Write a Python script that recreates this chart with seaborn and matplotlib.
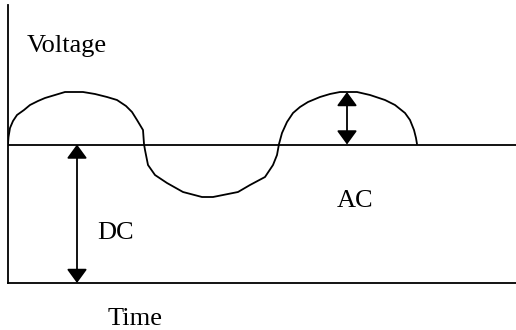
import matplotlib
matplotlib.use("Agg")
import matplotlib.pyplot as plt
import seaborn as sns
import pandas as pd

# Hand-drawn signal (time, voltage)
curve_time = [0, 0.5, 2, 5, 9, 16, 22, 30, 37, 47, 57, 66, 75, 87, 99, 109, 118, 124, 129, 135,
              136, 137, 140, 147, 159, 175, 194, 205, 215, 230, 242, 257, 265, 269, 271, 274,
              279, 285, 292, 300, 312, 322, 332, 349, 362, 377, 387, 397, 402, 406, 408, 409]
curve_voltage = [139, 146, 155, 162, 168, 173, 178, 182, 185, 188, 191, 191, 191, 189, 186, 183,
                 177, 171, 163, 153, 139, 133, 118, 108, 100, 91, 86, 86, 88, 91, 98, 106, 118,
                 128, 139, 150, 161, 170, 176, 181, 186, 189, 191, 191, 188, 183, 178, 170, 163,
                 153, 145, 139]
dc_level = 138.5
ac_peak = 191
dc_arrow_time = 69
ac_arrow_time = 339

labels = {"Voltage": (19, 231), "DC": (89, 44), "AC": (329, 76), "Time": (100, -42)}

sns.set_style("white")
plt.rcParams["font.family"] = ["Liberation Serif", "DejaVu Serif"]

W, H = 516, 330
fig = plt.figure(figsize=(W / 100, H / 100), dpi=100)
ax = fig.add_axes([8 / W, (H - 283) / H, 1 - 8 / W, (283 - 5) / H])

df = pd.DataFrame({"time": curve_time, "voltage": curve_voltage})
sns.lineplot(data=df, x="time", y="voltage", sort=False, estimator=None,
             color="black", linewidth=1.3, ax=ax)
ax.axhline(dc_level, color="black", linewidth=1.3)

arrow = dict(arrowstyle="<|-|>,head_length=0.85,head_width=0.62", mutation_scale=10,
             color="black", lw=1.3, shrinkA=0, shrinkB=0)
ax.annotate("", xy=(dc_arrow_time, 0), xytext=(dc_arrow_time, dc_level), arrowprops=arrow)
ax.annotate("", xy=(ac_arrow_time, ac_peak), xytext=(ac_arrow_time, dc_level), arrowprops=arrow)

for txt, (x, y) in labels.items():
    ax.text(x, y, txt, fontsize=19, ha="left", va="baseline", clip_on=False, color="black")

ax.set_xlim(0, 508)
ax.set_ylim(0, 278)
ax.set_xticks([])
ax.set_yticks([])
ax.set_xlabel("")
ax.set_ylabel("")
for s in ["top", "right"]:
    ax.spines[s].set_visible(False)
for s in ["left", "bottom"]:
    ax.spines[s].set_color("black")
    ax.spines[s].set_linewidth(1.3)

fig.savefig("out.png", dpi=100)
